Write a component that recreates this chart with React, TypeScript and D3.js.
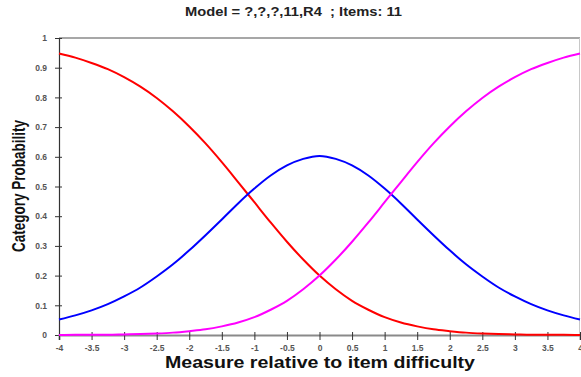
import React, { useEffect, useRef } from "react";
import * as d3 from "d3";

// measure values, -4 .. 4 in steps of 0.25
const measures = [
  -4, -3.75, -3.5, -3.25, -3, -2.75, -2.5, -2.25, -2, -1.75, -1.5, -1.25, -1, -0.75, -0.5, -0.25,
  0, 0.25, 0.5, 0.75, 1, 1.25, 1.5, 1.75, 2, 2.25, 2.5, 2.75, 3, 3.25, 3.5, 3.75, 4,
];

// category 0 (red)
const cat0 = [
  0.948, 0.934, 0.916, 0.895, 0.868, 0.836, 0.798, 0.753, 0.702, 0.645, 0.582, 0.515, 0.447, 0.379, 0.314, 0.254,
  0.2, 0.154, 0.115, 0.085, 0.06, 0.042, 0.029, 0.019, 0.013, 0.008, 0.005, 0.003, 0.002, 0.001, 0.001, 0.001, 0.0,
];

// category 1 (blue)
const cat1 = [
  0.052, 0.066, 0.083, 0.104, 0.13, 0.16, 0.197, 0.238, 0.285, 0.336, 0.389, 0.443, 0.493, 0.537, 0.571, 0.593,
  0.603, 0.593, 0.571, 0.537, 0.493, 0.443, 0.389, 0.336, 0.285, 0.238, 0.197, 0.16, 0.13, 0.104, 0.083, 0.066, 0.052,
];

// category 2 (magenta)
const cat2 = [
  0.0, 0.001, 0.001, 0.001, 0.002, 0.003, 0.005, 0.008, 0.013, 0.019, 0.029, 0.042, 0.06, 0.085, 0.115, 0.154,
  0.2, 0.254, 0.314, 0.379, 0.447, 0.515, 0.582, 0.645, 0.702, 0.753, 0.798, 0.836, 0.868, 0.895, 0.916, 0.934, 0.948,
];

const xTicks = [-4, -3.5, -3, -2.5, -2, -1.5, -1, -0.5, 0, 0.5, 1, 1.5, 2, 2.5, 3, 3.5, 4];
const yTicks = [0, 0.1, 0.2, 0.3, 0.4, 0.5, 0.6, 0.7, 0.8, 0.9, 1];

const series = [
  { name: "0", values: cat0, color: "#ff0000" },
  { name: "1", values: cat1, color: "#0000ff" },
  { name: "2", values: cat2, color: "#ff00ff" },
];

export default function App() {
  const svgRef = useRef<SVGSVGElement>(null);

  useEffect(() => {
    const width = 581;
    const height = 377;
    const margin = { top: 38, right: 1, bottom: 42, left: 59 };

    const svg = d3.select(svgRef.current);
    svg.selectAll("*").remove();

    const x = d3.scaleLinear().domain([-4, 4]).range([margin.left, width - margin.right]);
    const y = d3.scaleLinear().domain([0, 1]).range([height - margin.bottom, margin.top]);

    const font = "Arial, 'Liberation Sans', sans-serif";

    // frame: top and right
    svg.append("line")
      .attr("x1", margin.left).attr("x2", width - margin.right)
      .attr("y1", y(1)).attr("y2", y(1))
      .attr("stroke", "#8a8a8a").attr("stroke-width", 1.5);
    svg.append("line")
      .attr("x1", x(4) - 0.5).attr("x2", x(4) - 0.5)
      .attr("y1", y(1)).attr("y2", y(0))
      .attr("stroke", "#c8c8c8").attr("stroke-width", 1);

    // === Y axis ===
    const gy = svg.append("g")
      .attr("transform", `translate(${margin.left},0)`)
      .call(d3.axisLeft(y).tickValues(yTicks).tickSize(4).tickPadding(8).tickFormat((d) => String(d)));
    gy.select(".domain").attr("stroke", "#333").attr("stroke-width", 1.2);
    gy.selectAll(".tick line").attr("stroke", "#333").attr("x2", 3).attr("x1", -4);
    gy.selectAll("text")
      .attr("fill", "#555")
      .style("font-family", font)
      .style("font-size", "8.5px")
      .style("font-weight", "bold");

    // === X axis ===
    const gx = svg.append("g")
      .attr("transform", `translate(0,${y(0)})`)
      .call(d3.axisBottom(x).tickValues(xTicks).tickSize(5).tickPadding(5).tickFormat((d) => String(d)));
    gx.select(".domain").attr("stroke", "#8a8a8a").attr("stroke-width", 2);
    gx.selectAll(".tick line").attr("stroke", "#333").attr("y1", -3).attr("y2", 5);
    gx.selectAll("text")
      .attr("fill", "#555")
      .style("font-family", font)
      .style("font-size", "8.5px")
      .style("font-weight", "bold");

    // === Curves ===
    const lineGen = d3.line<number>()
      .x((_, i) => x(measures[i]))
      .y((d) => y(d))
      .curve(d3.curveMonotoneX);

    series.forEach((s) => {
      svg.append("path")
        .datum(s.values)
        .attr("fill", "none")
        .attr("stroke", s.color)
        .attr("stroke-width", 2)
        .attr("d", lineGen);
    });

    // === Titles ===
    svg.append("text")
      .attr("x", 293.5)
      .attr("y", 16)
      .attr("text-anchor", "middle")
      .attr("fill", "#222")
      .attr("textLength", 217)
      .attr("lengthAdjust", "spacingAndGlyphs")
      .style("font-family", font)
      .style("font-size", "12px")
      .style("font-weight", "bold")
      .style("white-space", "pre")
      .text("Model = ?,?,?,11,R4  ; Items: 11");

    svg.append("text")
      .attr("x", 320)
      .attr("y", 368)
      .attr("text-anchor", "middle")
      .attr("fill", "#111")
      .attr("textLength", 310)
      .attr("lengthAdjust", "spacingAndGlyphs")
      .style("font-family", font)
      .style("font-size", "16px")
      .style("font-weight", "bold")
      .text("Measure relative to item difficulty");

    svg.append("text")
      .attr("transform", `translate(25,186) rotate(-90)`)
      .attr("text-anchor", "middle")
      .attr("fill", "#111")
      .attr("textLength", 132)
      .attr("lengthAdjust", "spacingAndGlyphs")
      .style("font-family", font)
      .style("font-size", "18px")
      .style("font-weight", "bold")
      .text("Category Probability");
  }, []);

  return (
    <svg
      ref={svgRef}
      width={581}
      height={377}
      style={{ position: "absolute", left: 0, top: 0, background: "#fff" }}
    />
  );
}
